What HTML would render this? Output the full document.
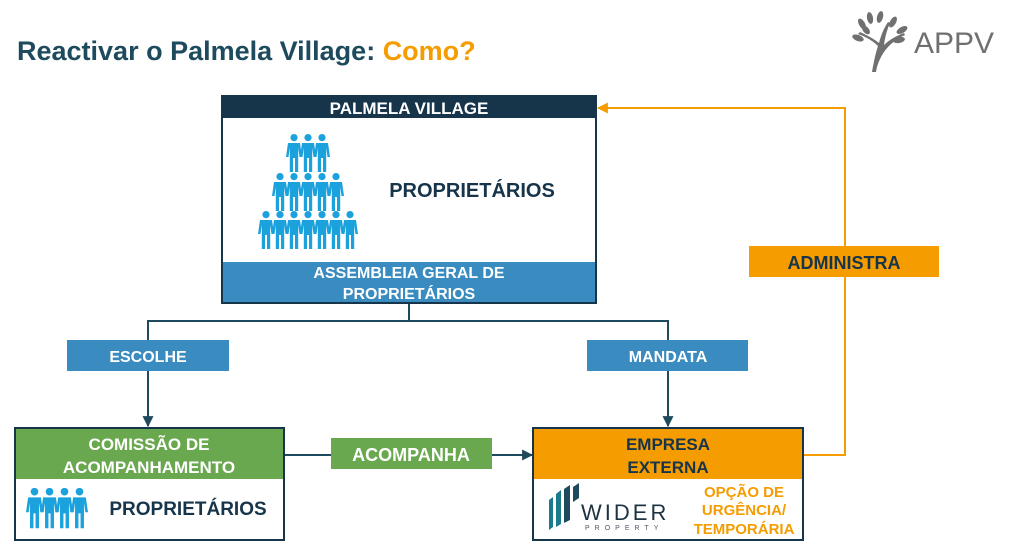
<!DOCTYPE html>
<html><head><meta charset="utf-8"><style>
html,body{margin:0;padding:0;background:#fff;}
svg{display:block;}
text{font-family:"Liberation Sans",Arial,sans-serif;font-weight:bold;}
</style></head><body>
<svg width="1019" height="548" viewBox="0 0 1019 548" xmlns="http://www.w3.org/2000/svg">
<defs>
<symbol id="p" viewBox="-8 0 16 38" overflow="visible">
<circle cx="0" cy="3.6" r="3.6" fill="#1ba1db"/>
<path d="M-6,9 H6 L8,23 H5.5 L4.2,14 V38 H1 V24 H-1 V38 H-4.2 V14 L-5.5,23 H-8 Z" fill="#1ba1db"/>
</symbol>
<marker id="ad" viewBox="0 0 10 10" refX="9" refY="5" markerUnits="userSpaceOnUse" markerWidth="11" markerHeight="11" orient="auto"><path d="M0,0 L10,5 L0,10 z" fill="#1d4a5c"/></marker>
<marker id="ao" viewBox="0 0 10 10" refX="9" refY="5" markerUnits="userSpaceOnUse" markerWidth="11" markerHeight="11" orient="auto"><path d="M0,0 L10,5 L0,10 z" fill="#f59c00"/></marker>
</defs>

<text x="17" y="60" font-size="27" fill="#1d4a5c">Reactivar o Palmela Village: <tspan fill="#f59c00">Como?</tspan></text>

<!-- logo -->
<g fill="#707070">
<path d="M876,72 L872,72 C874,60 876,52 878,46 C872,40 864,36 858,34 L860,32 C866,35 873,38 879,43 C881,35 884,28 888,22 L890,23 C887,30 885,37 884,45 C889,40 896,36 904,33 L905,35 C896,39 889,45 884,52 C880,58 877,65 876,72 Z"/>
<ellipse cx="862" cy="24" rx="3" ry="6" transform="rotate(-30 862 24)"/>
<ellipse cx="870" cy="18" rx="3" ry="6" transform="rotate(-10 870 18)"/>
<ellipse cx="880" cy="17" rx="3" ry="6" transform="rotate(15 880 17)"/>
<ellipse cx="858" cy="38" rx="3" ry="6" transform="rotate(-70 858 38)"/>
<ellipse cx="866" cy="30" rx="3" ry="5" transform="rotate(-40 866 30)"/>
<ellipse cx="893" cy="22" rx="3" ry="6" transform="rotate(30 893 22)"/>
<ellipse cx="902" cy="30" rx="3" ry="6" transform="rotate(60 902 30)"/>
<ellipse cx="899" cy="40" rx="3" ry="6" transform="rotate(80 899 40)"/>
</g>
<text x="914" y="53" font-size="30" style="font-weight:normal" fill="#707070">APPV</text>

<!-- connectors -->
<g stroke="#1d4a5c" stroke-width="2" fill="none">
<path d="M409,303 V321 H148 V426" marker-end="url(#ad)"/>
<path d="M409,321 H668 V426" marker-end="url(#ad)"/>
<path d="M284,455 H532" marker-end="url(#ad)"/>
</g>
<path d="M803,455 H845 V108 H598" stroke="#f59c00" stroke-width="2" fill="none" marker-end="url(#ao)"/>

<!-- top box -->
<rect x="222" y="96" width="374" height="207" fill="#fff" stroke="#16344a" stroke-width="2"/>
<rect x="222" y="96" width="374" height="22" fill="#16344a"/>
<text x="409" y="114" font-size="17" fill="#fff" text-anchor="middle">PALMELA VILLAGE</text>
<rect x="223" y="262" width="372" height="40" fill="#3a8bbf"/>
<text x="409" y="278" font-size="16" fill="#fff" text-anchor="middle">ASSEMBLEIA GERAL DE</text>
<text x="409" y="299" font-size="16" fill="#fff" text-anchor="middle">PROPRIETÁRIOS</text>
<text x="472" y="197" font-size="20" fill="#16344a" text-anchor="middle">PROPRIETÁRIOS</text>
<g>
<use href="#p" x="286" y="134" width="16" height="38"/>
<use href="#p" x="300" y="134" width="16" height="38"/>
<use href="#p" x="314" y="134" width="16" height="38"/>
<use href="#p" x="272" y="173" width="16" height="38"/>
<use href="#p" x="286" y="173" width="16" height="38"/>
<use href="#p" x="300" y="173" width="16" height="38"/>
<use href="#p" x="314" y="173" width="16" height="38"/>
<use href="#p" x="328" y="173" width="16" height="38"/>
<use href="#p" x="258" y="211" width="16" height="38"/>
<use href="#p" x="272" y="211" width="16" height="38"/>
<use href="#p" x="286" y="211" width="16" height="38"/>
<use href="#p" x="300" y="211" width="16" height="38"/>
<use href="#p" x="314" y="211" width="16" height="38"/>
<use href="#p" x="328" y="211" width="16" height="38"/>
<use href="#p" x="342" y="211" width="16" height="38"/>
</g>

<!-- labels -->
<rect x="67" y="340" width="162" height="31" fill="#3a8bbf"/>
<text x="148" y="362" font-size="16" fill="#fff" text-anchor="middle">ESCOLHE</text>
<rect x="587" y="340" width="161" height="31" fill="#3a8bbf"/>
<text x="668" y="362" font-size="16" fill="#fff" text-anchor="middle">MANDATA</text>
<rect x="749" y="246" width="190" height="31" fill="#f59c00"/>
<text x="844" y="269" font-size="18" fill="#16344a" text-anchor="middle">ADMINISTRA</text>
<rect x="331" y="438" width="161" height="31" fill="#6aa84f"/>
<text x="411" y="461" font-size="18" fill="#fff" text-anchor="middle">ACOMPANHA</text>

<!-- left box -->
<rect x="15" y="428" width="269" height="112" fill="#fff" stroke="#16344a" stroke-width="2"/>
<rect x="16" y="429" width="267" height="50" fill="#6aa84f"/>
<text x="149" y="450" font-size="17" fill="#fff" text-anchor="middle">COMISSÃO DE</text>
<text x="149" y="473" font-size="17" fill="#fff" text-anchor="middle">ACOMPANHAMENTO</text>
<use href="#p" x="26" y="487" width="17" height="42"/>
<use href="#p" x="41" y="487" width="17" height="42"/>
<use href="#p" x="56" y="487" width="17" height="42"/>
<use href="#p" x="71" y="487" width="17" height="42"/>
<text x="188" y="515" font-size="19" fill="#16344a" text-anchor="middle">PROPRIETÁRIOS</text>

<!-- right box -->
<rect x="533" y="428" width="270" height="112" fill="#fff" stroke="#16344a" stroke-width="2"/>
<rect x="534" y="429" width="268" height="50" fill="#f59c00"/>
<text x="668" y="450" font-size="17" fill="#16344a" text-anchor="middle">EMPRESA</text>
<text x="668" y="473" font-size="17" fill="#16344a" text-anchor="middle">EXTERNA</text>
<g>
<polygon points="549,500 553,497 553,527 549,530" fill="#1b7a8c"/>
<polygon points="556,494 561,490 561,524 556,527" fill="#1b7a8c"/>
<polygon points="564,489 570,485 570,520 564,523" fill="#1d4a5c"/>
<polygon points="573,487 579,483 579,498 573,502" fill="#1d4a5c"/>
</g>
<text x="581" y="520" font-size="22" style="font-weight:normal;letter-spacing:3px" fill="#1d3440">WIDER</text>
<text x="585" y="530" font-size="7" style="font-weight:normal;letter-spacing:5px" fill="#556">PROPERTY</text>
<text x="744" y="497" font-size="15" fill="#f59c00" text-anchor="middle">OPÇÃO DE</text>
<text x="744" y="515" font-size="15" fill="#f59c00" text-anchor="middle">URGÊNCIA/</text>
<text x="744" y="534" font-size="15" fill="#f59c00" text-anchor="middle">TEMPORÁRIA</text>
</svg>
</body></html>
